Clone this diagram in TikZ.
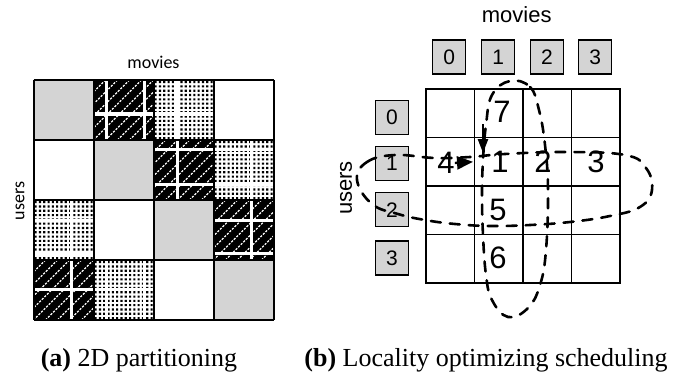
\documentclass[tikz,border=0pt]{standalone}
\usepackage{fontspec}
\setmainfont{Liberation Serif}
\newfontfamily\helv{Liberation Sans}
\newfontfamily\carl{Carlito}
\usetikzlibrary{arrows.meta}
\definecolor{cellgray}{gray}{0.83}
\tikzset{
  hatchline/.style={white, line width=1.1pt, dash pattern=on 2.2pt off 1.4pt},
  partline/.style={white, line width=3pt},
  smlbl/.style={font=\carl\fontsize{18}{18}\selectfont, inner sep=0pt},
  lbl/.style={font=\helv\fontsize{22}{22}\selectfont, inner sep=0pt},
  idbox/.style={draw, fill=cellgray, line width=1.2pt, minimum width=33pt, minimum height=34pt,
    inner sep=0pt, font=\helv\fontsize{21}{21}\selectfont},
  gcell/.style={draw, line width=1.5pt, minimum size=48.5pt, inner sep=0pt, outer sep=0pt},
  bignum/.style={font=\helv\fontsize{31}{31}\selectfont, inner sep=0pt},
  loop/.style={line width=2.6pt, dash pattern=on 10pt off 9pt, line cap=round},
  flow/.style={line width=2.4pt, -{Triangle[length=16pt,width=13pt]}},
  caption/.style={font=\fontsize{26}{26}\selectfont, anchor=base, inner sep=0pt}
}
\begin{document}
\begin{tikzpicture}[x=1pt,y=-1pt]
\useasboundingbox (0,0) rectangle (679,385);

% ---------- (a) 2D partitioning ----------
% diagonal blocks
\foreach \k in {0,...,3}
  \fill[cellgray] ({33.5+60*\k},{80+60*\k}) rectangle ++(60,60);

% dark blocks: hatch plus white sub-partition lines
\foreach \x/\y/\vs/\hs in {93.5/80/{106,144}/{114}, 153.5/140/{177}/{149,184},
                           213.5/200/{251}/{220,253}, 33.5/260/{71}/{289}}{
  \fill[black] (\x,\y) rectangle ++(60,60);
  \begin{scope}
    \clip (\x,\y) rectangle ++(60,60);
    \foreach \k in {-60,-48,...,60}
      \draw[hatchline] ({\x+\k},{\y+60}) -- ++(60,-60);
    \foreach \v in \vs \draw[partline] (\v,\y) -- ++(0,60);
    \foreach \h in \hs \draw[partline] (\x,\h) -- ++(60,0);
  \end{scope}
}

% dotted blocks with the same sub-partition gaps
\foreach \x/\y/\vs/\hs in {153.5/80/{177}/{114}, 213.5/140/{251}/{149,184},
                           33.5/200/{71}/{220,253}, 93.5/260/{106,144}/{289}}{
  \fill[black] \foreach \i in {0,...,13}{\foreach \j in {0,...,13}{
      ({\x+1.1+\i*4.3},{\y+1.1+\j*4.3}) rectangle ++(2.1,2.1)}};
  \foreach \v in \vs \fill[white] ({\v-1.5},\y) rectangle ++(3,60);
  \foreach \h in \hs \fill[white] (\x,{\h-1.5}) rectangle ++(60,3);
}

% block borders
\foreach \k in {0,...,4}{
  \draw[line width=2pt] ({33.5+60*\k},80) -- ++(0,240);
  \draw[line width=2pt] (33.5,{80+60*\k}) -- ++(240,0);
}

\node[smlbl] (lmovies) at (153.5,62) {movies};
\node[smlbl, rotate=90] (lusers) at (20,201) {users};

% ---------- (b) locality optimizing scheduling ----------
\foreach \r in {0,...,3}
  \foreach \c in {0,...,3}
    \node[gcell] (g\r\c) at ({450.25+48.5*\c},{113.25+48.5*\r}) {};

\node[idbox] (m0) at (449.3,57) {0};
\node[idbox] (m1) at (498.3,57) {1};
\node[idbox] (m2) at (547,57) {2};
\node[idbox] (m3) at (595.3,57) {3};

\node[idbox] (u0) at (392,117.5) {0};
\node[idbox] (u1) at (392,163.7) {1};
\node[idbox] (u2) at (392,209.7) {2};
\node[idbox] (u3) at (392,258) {3};

\node[lbl] (rmovies) at (516.7,15) {movies};
\node[lbl, rotate=90] (rusers) at (346,188) {users};

\node[bignum] (n7) at (502,112) {7};
\node[bignum] (n1) at (500,162) {1};
\node[bignum] (n2) at (543,162) {2};
\node[bignum] (n3) at (596,162) {3};
\node[bignum] (n4) at (446,163) {4};
\node[bignum] (n5) at (498,210) {5};
\node[bignum] (n6) at (498,258) {6};

% column sweep and row sweep
\draw[loop] plot[smooth cycle, tension=0.7] coordinates {
  (510,81) (530,87) (539,110) (545,145) (548,190) (546,250) (540,285) (528,308)
  (508,317) (492,300) (486,275) (483,235) (482,195) (483,160) (486,125) (492,95)};
\draw[loop] plot[smooth cycle, tension=0.7] coordinates {
  (357,180) (367,162) (395,155) (435,158) (470,157) (505,154) (565,152) (625,155)
  (646,168) (652,190) (640,207) (610,216) (570,222) (530,225) (490,226) (455,224)
  (425,220) (398,214) (372,204)};

\coordinate (vs) at (483,124);
\coordinate (ve) at (483,153);
\draw[flow, -{Triangle[length=14pt,width=10pt]}] (vs) -- (ve);
\draw[flow, shorten >=1.5pt] (n4.east) -- (g11.west);

% captions
\node[caption] (capa) at (139,366) {\textbf{(a)} 2D partitioning};
\node[caption] (capb) at (486,366) {\textbf{(b)} Locality optimizing scheduling};
\end{tikzpicture}
\end{document}
